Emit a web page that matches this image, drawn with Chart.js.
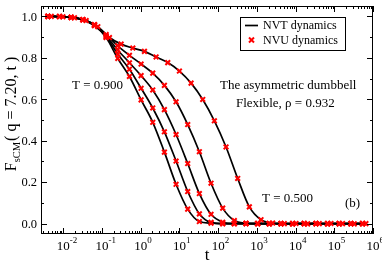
<!DOCTYPE html>
<html>
<head>
<meta charset="utf-8">
<script src="https://cdn.jsdelivr.net/npm/chart.js@4/dist/chart.umd.min.js"></script>
<style>
  html, body { margin: 0; padding: 0; background: #fff; }
  #parent { width: 382px; height: 264px; position: relative; }
</style>
</head>
<body>
<div id="parent"><canvas id="myChart"></canvas></div>
<script>
// output times of the NVU runs
const timesSlow = [0.0049, 0.0098, 0.0195, 0.039, 0.078, 0.156, 0.3125, 0.625, 1.25, 2.5, 5, 10, 20, 40, 80, 160, 320, 640, 1280, 2560, 5120, 10240, 20480, 40960, 81920, 163840, 327680, 655360];
const timesFast = [0.004, 0.008, 0.016, 0.032, 0.064, 0.128, 0.256, 0.512, 1.024, 2.048, 4.096, 8.192, 16.38, 32.77, 65.54, 131.1, 262.1, 524.3, 1049, 2097, 4194, 8389, 16777, 33554, 67109, 134218, 268435, 536871];

// F_sCM(q, t) per temperature, fastest (T = 0.900) to slowest (T = 0.500)
const f900 = [1.0, 0.999, 0.995, 0.983, 0.955, 0.898, 0.797, 0.710, 0.597, 0.489, 0.345, 0.190, 0.070, 0.010, 0.002, 0.0, 0.0, 0.001, 0.0, -0.001, 0.0, 0.0, 0.001, 0.0, 0.0, -0.001, 0.0, 0.0];
const f800 = [1.0, 0.999, 0.995, 0.984, 0.957, 0.902, 0.818, 0.745, 0.653, 0.558, 0.443, 0.302, 0.155, 0.047, 0.006, 0.0, 0.001, 0.0, 0.0, 0.0, -0.001, 0.0, 0.0, 0.001, 0.0, 0.0, 0.0, 0.0];
const f700 = [1.0, 0.999, 0.995, 0.984, 0.958, 0.905, 0.838, 0.776, 0.714, 0.645, 0.550, 0.430, 0.290, 0.145, 0.045, 0.007, 0.0, 0.0, 0.001, 0.0, 0.0, -0.001, 0.0, 0.0, 0.0, 0.001, 0.0, 0.0];
const f600 = [1.0, 0.999, 0.995, 0.985, 0.961, 0.912, 0.858, 0.812, 0.770, 0.726, 0.667, 0.588, 0.478, 0.347, 0.195, 0.075, 0.015, 0.002, 0.0, 0.0, 0.001, 0.0, 0.0, 0.0, -0.001, 0.0, 0.0, 0.0];
const f500 = [1.0, 0.998, 0.993, 0.980, 0.950, 0.898, 0.866, 0.847, 0.831, 0.804, 0.777, 0.736, 0.678, 0.599, 0.496, 0.370, 0.218, 0.081, 0.019, 0.003, 0.0, 0.001, -0.001, 0.0, 0.001, 0.0, -0.001, 0.0];

const curves = [
  { t: timesFast, f: f900 },
  { t: timesFast, f: f800 },
  { t: timesFast, f: f700 },
  { t: timesFast, f: f600 },
  { t: timesSlow, f: f500 }
];

const xDecades = [-2, -1, 0, 1, 2, 3, 4, 5, 6];
const yTicks = [0.0, 0.2, 0.4, 0.6, 0.8, 1.0];

const SERIF = '"Liberation Serif", "Times New Roman", serif';

const toPoints = (c) => c.t.map((t, i) => ({ x: t, y: c.f[i] }));

const datasets = [];
curves.forEach((c) => {
  // NVT: black line
  datasets.push({
    data: toPoints(c),
    borderColor: '#000',
    borderWidth: 1.7,
    pointRadius: 0,
    cubicInterpolationMode: 'monotone',
    order: 2
  });
  // NVU: red crosses
  datasets.push({
    data: toPoints(c),
    showLine: false,
    pointStyle: 'crossRot',
    pointRadius: 3.3,
    pointBorderWidth: 2,
    pointBorderColor: '#ff0000',
    pointBackgroundColor: '#ff0000',
    order: 1
  });
});

// frame, ticks, labels, legend and notes drawn on top
const decorations = {
  id: 'decorations',
  afterDraw(chart) {
    const ctx = chart.ctx;
    const a = chart.chartArea;
    const x = chart.scales.x, y = chart.scales.y;
    const seg = (x1, y1, x2, y2) => { ctx.beginPath(); ctx.moveTo(x1, y1); ctx.lineTo(x2, y2); ctx.stroke(); };

    ctx.save();
    ctx.strokeStyle = '#000';
    ctx.lineWidth = 1;
    ctx.strokeRect(a.left + 0.5, a.top + 0.5, a.right - a.left - 1, a.bottom - a.top - 1);

    // log ticks, inside on bottom and top
    for (let e = -3; e <= 6; e++) {
      for (let m = 1; m < 10; m++) {
        const v = m * Math.pow(10, e);
        if (v < x.min || v > x.max) continue;
        const px = Math.round(x.getPixelForValue(v)) + 0.5;
        const len = m === 1 ? 6 : 3;
        seg(px, a.bottom, px, a.bottom - len);
        seg(px, a.top, px, a.top + len);
      }
    }
    // linear ticks, inside on left and right
    for (let k = 0; k <= 10; k++) {
      const py = Math.round(y.getPixelForValue(k / 10)) + 0.5;
      const len = k % 2 === 0 ? 6 : 3;
      seg(a.left, py, a.left + len, py);
      seg(a.right, py, a.right - len, py);
    }

    ctx.fillStyle = '#000';
    // x tick labels 10^n
    xDecades.forEach((e) => {
      const px = x.getPixelForValue(Math.pow(10, e));
      ctx.font = '13px ' + SERIF;
      ctx.textAlign = 'center';
      ctx.textBaseline = 'alphabetic';
      ctx.fillText('10', px, 250);
      ctx.font = '9px ' + SERIF;
      ctx.textAlign = 'left';
      ctx.fillText(String(e), px + 6.5, 243);
    });
    // y tick labels
    ctx.font = '12.5px ' + SERIF;
    ctx.textAlign = 'right';
    ctx.textBaseline = 'middle';
    yTicks.forEach((v) => {
      ctx.fillText(v.toFixed(1), 37, y.getPixelForValue(v) + 1);
    });

    // axis titles
    ctx.font = '17px ' + SERIF;
    ctx.textAlign = 'center';
    ctx.textBaseline = 'alphabetic';
    ctx.fillText('t', (a.left + a.right) / 2, 260);

    ctx.save();
    ctx.translate(16, 114);
    ctx.rotate(-Math.PI / 2);
    ctx.textAlign = 'left';
    ctx.font = '16px ' + SERIF;
    const wF = ctx.measureText('F').width;
    const tail = '( q = 7.20, t )';
    const wTail = ctx.measureText(tail).width;
    ctx.font = '10.5px ' + SERIF;
    const wSub = ctx.measureText('sCM').width;
    let cx = -(wF + wSub + 1 + wTail) / 2;
    ctx.font = '16px ' + SERIF;
    ctx.fillText('F', cx, 0);
    cx += wF;
    ctx.font = '10.5px ' + SERIF;
    ctx.fillText('sCM', cx, 4);
    cx += wSub + 1;
    ctx.font = '16px ' + SERIF;
    ctx.fillText(tail, cx, 0);
    ctx.restore();

    // notes
    ctx.font = '13px ' + SERIF;
    ctx.textAlign = 'left';
    ctx.textBaseline = 'middle';
    ctx.fillText('T = 0.900', 72, 86);
    ctx.fillText('The asymmetric dumbbell', 220, 86);
    ctx.fillText('Flexible, \u03C1 = 0.932', 236, 104);
    ctx.fillText('T = 0.500', 262, 199);
    ctx.fillText('(b)', 345, 204);

    // legend
    ctx.lineWidth = 1;
    ctx.strokeStyle = '#000';
    ctx.strokeRect(240.5, 17.5, 105, 33);
    ctx.lineWidth = 1.7;
    seg(245, 25.5, 258, 25.5);
    ctx.strokeStyle = '#ff0000';
    ctx.lineWidth = 2;
    seg(249, 37.5, 254, 42.5);
    seg(249, 42.5, 254, 37.5);
    ctx.font = '12px ' + SERIF;
    ctx.fillText('NVT dynamics', 263, 26);
    ctx.fillText('NVU dynamics', 263, 41);
    ctx.restore();
  }
};

var canvas = document.getElementById('myChart');
var chart = new Chart(canvas.getContext('2d'), {
  type: 'line',
  data: { datasets: datasets },
  options: {
    responsive: true,
    maintainAspectRatio: false,
    animation: false,
    layout: { padding: { left: 41, right: 9, top: 0, bottom: 30 } },
    plugins: { legend: { display: false }, tooltip: { enabled: false } },
    scales: {
      x: { type: 'logarithmic', min: 0.00266, max: 1e6, display: false },
      y: { type: 'linear', min: -0.05, max: 1.05, display: false }
    }
  },
  plugins: [decorations]
});
</script>
</body>
</html>
